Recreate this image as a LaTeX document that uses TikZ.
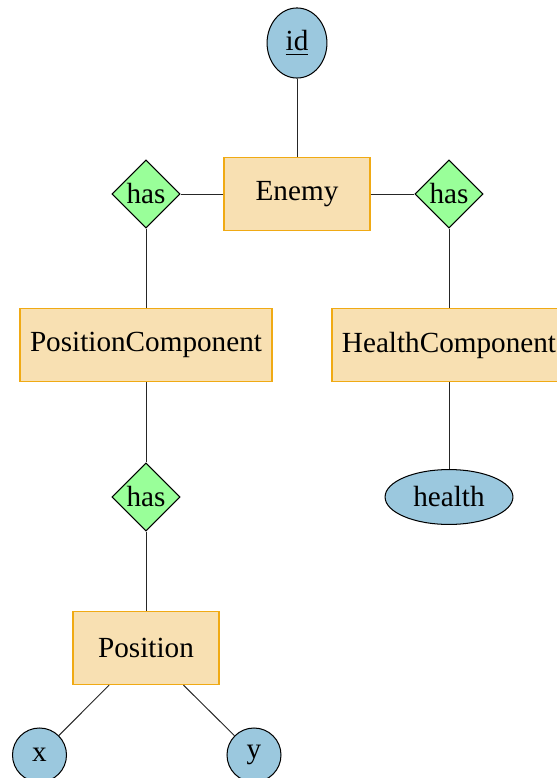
\documentclass[tikz,border=0pt]{standalone}
\usepackage{fontspec}
\setmainfont{Liberation Serif}
\usetikzlibrary{shapes.geometric}
\definecolor{entfill}{RGB}{248,224,178}
\definecolor{entdraw}{RGB}{240,170,20}
\definecolor{attrfill}{RGB}{155,200,222}
\definecolor{relfill}{RGB}{153,255,153}
\begin{document}
\begin{tikzpicture}[x=0.3425pt,y=-0.3425pt,
  every node/.style={font=\fontsize{10}{12}\selectfont},
  entity/.style={rectangle,draw=entdraw,fill=entfill,line width=0.4pt,
    minimum width=50pt,minimum height=25pt,inner xsep=3.4pt},
  relation/.style={diamond,draw=black,fill=relfill,line width=0.35pt,
    minimum width=23.3pt,minimum height=23.3pt,inner sep=0pt},
  attribute/.style={ellipse,draw=black,fill=attrfill,line width=0.35pt,inner sep=0pt},
  link/.style={draw=black!85,line width=0.33pt}]
\useasboundingbox (0,0) rectangle (557,778);
\begin{scope}
\clip (0,0) rectangle (557,778);
% entities
\node[entity] (enemy) at (297,194) {Enemy};
\node[entity] (poscomp) at (146,345) {PositionComponent};
\node[entity] (healthcomp) at (449,345) {HealthComponent};
\node[entity] (position) at (146,648) {Position};
% relationships
\node[relation] (hasL) at (146,194) {has};
\node[relation] (hasR) at (449,194) {has};
\node[relation] (hasP) at (146,497) {has};
% attributes
\node[attribute,minimum width=20.5pt,minimum height=24pt] (id) at (297,43) {\underline{id}};
\node[attribute,minimum width=43.8pt,minimum height=18.8pt] (health) at (449,497) {health};
\node[attribute,circle,minimum size=18.5pt] (x) at (39.5,755) {x};
\node[attribute,circle,minimum size=18.5pt] (y) at (254,755) {y};
% connectors
\path[link] (id) -- (enemy);
\path[link] (enemy) -- (hasL);
\path[link] (enemy) -- (hasR);
\path[link] (hasL) -- (poscomp);
\path[link] (hasR) -- (healthcomp);
\path[link] (poscomp) -- (hasP);
\path[link] (hasP) -- (position);
\path[link] (healthcomp) -- (health);
\path[link] (position) -- (x);
\path[link] (position) -- (y);
\end{scope}
\end{tikzpicture}
\end{document}
